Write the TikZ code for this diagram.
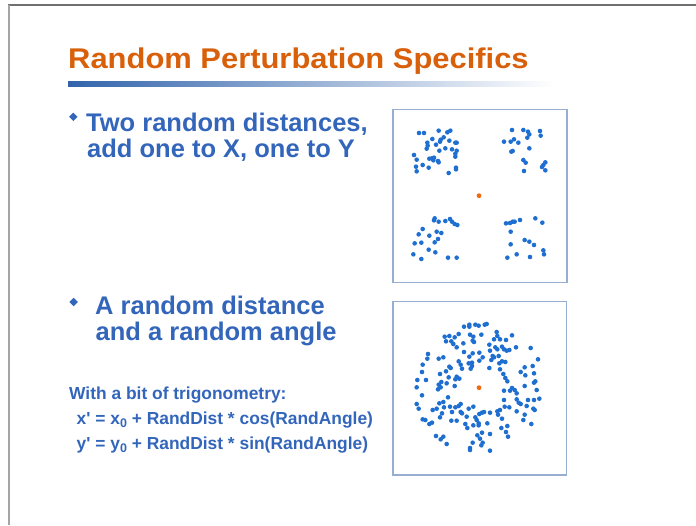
\documentclass[tikz,border=0pt]{standalone}
\usepackage{fontspec}
\setmainfont{Liberation Sans}[Ligatures=TeXOff]
\definecolor{ttlorange}{RGB}{217,96,10}
\definecolor{txtblue}{RGB}{51,102,187}
\definecolor{dotblue}{RGB}{31,111,208}
\definecolor{dotorange}{RGB}{242,106,16}
\definecolor{boxline}{RGB}{150,174,210}
\definecolor{barblue}{RGB}{50,100,172}
\begin{document}
\begin{tikzpicture}[x=1pt,y=-1pt,
  ttl/.style={anchor=base west,inner sep=0pt,text=ttlorange,font=\fontsize{28.5}{30}\selectfont\bfseries},
  bul/.style={anchor=base west,inner sep=0pt,text=txtblue,font=\fontsize{25.5}{26}\selectfont\bfseries},
  sml/.style={anchor=base west,inner sep=0pt,text=txtblue,font=\fontsize{17.4}{18}\selectfont\bfseries},
  plotbox/.style={draw=boxline,line width=1.4pt},
  pdot/.style={fill=dotblue},
  cdot/.style={fill=dotorange}]
\useasboundingbox (0,0) rectangle (696,525);
\fill[white] (0,0) rectangle (696,525);
% slide frame
\draw[color={rgb,255:red,112;green,112;blue,112},line width=1.3pt] (8,5) -- (696,5);
\draw[color={rgb,255:red,165;green,165;blue,165},line width=2pt] (9,5) -- (9,525);
% title
\node[ttl] (title) at (68,68.5) {\scalebox{1.085}[1]{Random Perturbation Specifics}};
\shade[left color=barblue,right color=white] (68,81) rectangle (555,86);
% bullet 1
\fill[txtblue] (73.3,112.6) -- (77.5,116.8) -- (73.3,121) -- (69.1,116.8) -- cycle;
\node[bul] (b1a) at (86,131.7) {Two random distances,};
\node[bul] (b1b) at (87,157.3) {add one to X, one to Y};
% bullet 2
\fill[txtblue] (73.6,297.8) -- (77.8,302) -- (73.6,306.2) -- (69.4,302) -- cycle;
\node[bul] (b2a) at (95,314.3) {A random distance};
\node[bul] (b2b) at (95.5,340) {and a random angle};
% trig
\node[sml] (t1) at (69,399.5) {With a bit of trigonometry:};
\node[sml] (t2) at (76.5,424.5) {x' = x\raisebox{-0.35ex}{\fontsize{12.5}{12.5}\selectfont 0} + RandDist * cos(RandAngle)};
\node[sml] (t3) at (76.5,449.5) {y' = y\raisebox{-0.35ex}{\fontsize{12.5}{12.5}\selectfont 0} + RandDist * sin(RandAngle)};
% box 1
\draw[plotbox] (393,109.3) rectangle (567,282.7);
\foreach \p/\q in {87/84,102/84,146/77,172/82,181/77,127/102,112/113,113/122,138/119,150/110,152/104,161/97,178/107,196/113,200/113,166/130,148/137,186/133,200/137,196/146,196/155,72/150,80/164,98/180,116/188,118/161,130/166,126/160,146/172,144/168,78/185,80/199,176/204,198/188,198/193,110/131,132/158,
366/75,400/75,414/80,418/88,412/98,450/78,452/92,342/110,362/110,372/103,385/113,418/130,364/140,368/138,400/165,407/173,402/198,466/172,460/180,456/186,466/196,
134/340,132/346,146/350,166/348,180/342,186/350,194/357,202/360,98/372,86/388,118/392,140/380,154/384,144/402,134/412,74/415,94/413,116/434,136/442,70/448,94/462,174/458,200/458,
348/355,360/354,368/350,374/350,390/345,436/340,457/353,362/380,362/418,404/405,418/410,432/420,460/436,462/448,352/458,380/448,420/456}
  \fill[pdot] ({390+\p/3},{105+\q/3}) circle[radius=2.3pt];
\fill[cdot] ({390+267/3},{105+272/3}) circle[radius=2.4pt];
% box 2
\draw[plotbox] (393,301.7) rectangle (566.7,475);
\foreach \p/\q in {222/80,238/74,238/80,256/74,266/77,284/74,290/72,
164/110,178/108,194/112,206/102,240/104,250/110,274/104,320/96,322/108,366/106,312/118,330/118,348/120,
168/124,184/124,190/132,220/130,248/122,252/126,298/134,316/142,322/148,336/140,342/148,350/152,358/150,378/142,422/144,
200/142,222/156,248/160,268/158,300/152,308/168,312/172,326/168,114/162,112/176,146/176,160/172,238/170,268/182,278/172,304/180,328/190,336/184,346/186,444/178,
98/194,178/200,182/204,206/184,212/194,236/190,246/188,246/198,216/206,242/206,298/204,330/208,392/216,404/202,428/198,432/220,96/216,108/240,82/240,80/262,150/222,168/214,176/232,200/230,196/238,208/236,154/246,146/254,144/268,152/262,170/250,194/258,340/222,346/234,352/244,342/272,360/272,366/264,374/270,380/280,406/226,404/258,432/248,436/244,440/270,96/286,
80/312,86/326,98/358,118/372,126/368,128/330,140/326,148/310,160/306,174/292,162/322,156/340,150/352,180/320,186/336,196/322,206/318,212/312,216/340,212/336,200/362,184/362,230/350,226/372,232/384,250/376,256/352,260/360,266/370,268/342,276/338,282/336,266/376,292/370,300/338,322/334,324/344,330/330,336/356,342/300,344/320,358/322,380/298,386/308,380/334,392/312,410/318,414/300,432/300,448/296,434/330,430/326,404/344,424/372,400/360,352/378,334/384,348/396,354/410,300/402,276/398,270/416,262/406,278/428,274/436,248/428,240/444,240/450,300/452,138/408,152/418,160/410,170/432,106/360,236/326,250/320}
  \fill[pdot] ({390+\p/3},{300+\q/3}) circle[radius=2.3pt];
\fill[cdot] ({390+267/3},{300+263/3}) circle[radius=2.4pt];
\end{tikzpicture}
\end{document}
